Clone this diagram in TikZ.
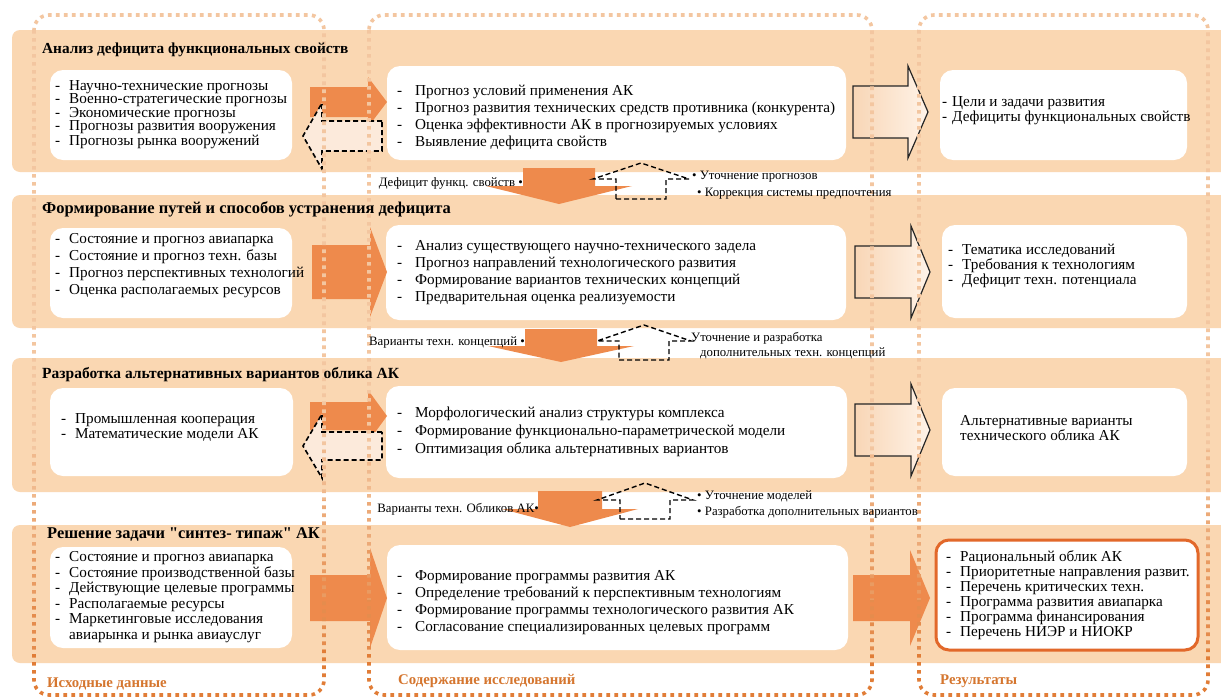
\documentclass[tikz,border=0pt]{standalone}
\usepackage{fontspec}
\setmainfont{Liberation Serif}[Ligatures=TeXOff]
\usetikzlibrary{calc}
\definecolor{band}{HTML}{FAD7B2}
\definecolor{orng}{HTML}{EE8A4C}
\definecolor{dotTop}{HTML}{F3C6A0}
\definecolor{dotBot}{HTML}{E07830}
\definecolor{lbl}{HTML}{D5762F}
\definecolor{dashfill}{HTML}{FCEADB}
\definecolor{resbd}{HTML}{E2682A}
\definecolor{outL}{HTML}{F8D6B6}
\definecolor{outR}{HTML}{FFF3E8}
\newcommand{\dashit}{\makebox[14pt][l]{-}}
\newcommand{\dashm}{\makebox[18pt][l]{-}}
% style, x-start, x-headbase, x-tip, centre-y, body half, head half
\newcommand{\RArrow}[7]{\path[#1] (#2,{#5-#6}) -- (#3,{#5-#6}) -- (#3,{#5-#7}) -- (#4,#5) -- (#3,{#5+#7}) -- (#3,{#5+#6}) -- (#2,{#5+#6}) -- cycle;}
% style, centre-x, y-start, y-headbase, y-tip, body half, head half
\newcommand{\DArrow}[7]{\path[#1] ({#2-#6},#3) -- ({#2+#6},#3) -- ({#2+#6},#4) -- ({#2+#7},#4) -- (#2,#5) -- ({#2-#7},#4) -- ({#2-#6},#4) -- cycle;}
\tikzset{
 bandbox/.style={fill=band, rounded corners=8pt},
 wbox/.style={draw=none, fill=white, rounded corners=13pt, inner sep=0pt},
 resbox/.style={draw=resbd, line width=3pt, fill=white, rounded corners=13pt, inner sep=0pt},
 solidarrow/.style={fill=orng},
 dasharrow/.style={draw=black, dash pattern=on 5pt off 3pt, line width=1.6pt, fill=dashfill},
 outarrow/.style={draw=black!85, line width=1.2pt, left color=outL, right color=outR},
 houseline/.style={draw=black, dash pattern=on 5pt off 3pt, line width=1.4pt},
 title/.style={font=\fontsize{15.5}{18}\selectfont\bfseries, anchor=west, inner sep=0pt},
 txt/.style={font=\fontsize{15.2}{17}\selectfont, anchor=west, align=left, inner sep=0pt},
 small/.style={font=\fontsize{12.8}{15}\selectfont, inner sep=0pt},
 collabel/.style={font=\fontsize{14.8}{17}\selectfont\bfseries, text=lbl, anchor=west, inner sep=0pt},
 dotcol/.style={line width=3.6pt, dash pattern=on 3.6pt off 4.4pt, rounded corners=15pt},
}
\begin{document}
\begin{tikzpicture}[x=1pt,y=-1pt]
\useasboundingbox (0,0) rectangle (1221,699);
\fill[white] (0,0) rectangle (1221,699);
% bands
\fill[bandbox] (12,30) rectangle (1240,172);
\fill[bandbox] (12,195) rectangle (1240,328);
\fill[bandbox] (12,358) rectangle (1240,492);
\fill[bandbox] (12,525) rectangle (1240,663);
% white boxes
\node[wbox, minimum width=242pt, minimum height=90pt] (l1) at (171,115) {};
\node[wbox, minimum width=459pt, minimum height=94pt] (m1) at (616.5,113) {};
\node[wbox, minimum width=247pt, minimum height=90pt] (r1) at (1063.5,115) {};
\node[wbox, minimum width=242pt, minimum height=90pt] (l2) at (171,273) {};
\node[wbox, minimum width=460pt, minimum height=95pt] (m2) at (616,272.5) {};
\node[wbox, minimum width=245pt, minimum height=93pt] (r2) at (1064.5,271.5) {};
\node[wbox, minimum width=243pt, minimum height=88pt] (l3) at (171.5,432) {};
\node[wbox, minimum width=461pt, minimum height=92pt] (m3) at (616.5,432) {};
\node[wbox, minimum width=245pt, minimum height=88pt] (r3) at (1064.5,432) {};
\node[wbox, minimum width=242pt, minimum height=101pt] (l4) at (171,597.5) {};
\node[wbox, minimum width=461pt, minimum height=105pt] (m4) at (617.5,597.5) {};
\node[resbox, minimum width=262pt, minimum height=110pt] (r4) at (1067,595) {};
% block arrows
\RArrow{solidarrow}{310}{368}{387}{102}{15}{25}
\RArrow{dasharrow}{382}{322}{303}{136}{15}{33}
\RArrow{outarrow}{853}{908}{928}{112}{26}{46}
\RArrow{solidarrow}{312}{370}{387}{272}{27}{45}
\RArrow{outarrow}{855}{911}{930}{272}{26}{46}
\RArrow{solidarrow}{310}{368}{387}{416}{14}{26}
\RArrow{dasharrow}{382}{322}{303}{446}{14}{32}
\RArrow{outarrow}{855}{911}{930}{430}{26}{46}
\RArrow{solidarrow}{310}{370}{387}{598}{23}{50}
\RArrow{solidarrow}{853}{910}{930}{598}{23}{48}
% down arrows and dashed feedback shapes
\DArrow{solidarrow}{559}{168}{186}{204}{36}{73}
\DArrow{solidarrow}{561}{329}{346}{362}{36}{73}
\DArrow{solidarrow}{570}{491}{509}{527}{32}{68}
\DArrow{houseline}{641}{199}{179}{163}{25}{48}
\DArrow{houseline}{644}{360}{341}{325}{25}{47}
\DArrow{houseline}{645}{519}{500}{483}{25}{48}
% dotted column outlines (light at top, dark at bottom)
\foreach \i in {0,...,13} {
  \pgfmathtruncatemacro\pp{max(0,min(100,((\i*50+25)-430)/2.6))}
  \colorlet{dc}{dotBot!\pp!dotTop}
  \begin{scope}
    \clip (0,{\i*50}) rectangle (1221,{\i*50+50});
    \draw[dotcol, draw=dc] (34,15) rectangle (324,695);
    \draw[dotcol, draw=dc] (369,15) rectangle (872,695);
    \draw[dotcol, draw=dc] (919,15) rectangle (1208,695);
  \end{scope}
}
% titles
\node[title, font=\fontsize{15.3}{18}\selectfont\bfseries] (t1) at (42,50) {Анализ дефицита функциональных свойств};
\node[title, font=\fontsize{16.5}{18}\selectfont\bfseries] (t2) at (42,209) {Формирование путей и способов устранения дефицита};
\node[title, font=\fontsize{15.5}{18}\selectfont\bfseries] (t3) at (42,375) {Разработка альтернативных вариантов облика АК};
\node[title, font=\fontsize{16.4}{18}\selectfont\bfseries] (t4) at (47,535) {Решение задачи "синтез- типаж" АК};
% texts row 1
\node[txt, font=\fontsize{15.2}{13.25}\selectfont] (l1t) at (55,114.5) {\dashit Научно-технические прогнозы\\ \dashit Военно-стратегические прогнозы\\ \dashit Экономические прогнозы\\ \dashit Прогнозы развития вооружения\\ \dashit Прогнозы рынка вооружений};
\node[txt] (m1t) at (397,117) {\dashm Прогноз условий применения АК\\ \dashm Прогноз развития технических средств противника (конкурента)\\ \dashm Оценка эффективности АК в прогнозируемых условиях\\ \dashm Выявление дефицита свойств};
\node[txt, font=\fontsize{15.2}{15}\selectfont] (r1t) at (942,111) {\makebox[10pt][l]{-}Цели и задачи развития\\ \makebox[10pt][l]{-}Дефициты функциональных свойств};
% texts row 2
\node[txt] (l2t) at (55,266) {\dashit Состояние и прогноз авиапарка\\ \dashit Состояние и прогноз техн. базы\\ \dashit Прогноз перспективных технологий\\ \dashit Оценка располагаемых ресурсов};
\node[txt] (m2t) at (397,273) {\dashm Анализ существующего научно-технического задела\\ \dashm Прогноз направлений технологического развития\\ \dashm Формирование вариантов технических концепций\\ \dashm Предварительная оценка реализуемости};
\node[txt, font=\fontsize{15.2}{15}\selectfont] (r2t) at (948,266) {\dashit Тематика исследований\\ \dashit Требования к технологиям\\ \dashit Дефицит техн. потенциала};
% texts row 3
\node[txt, font=\fontsize{15.2}{15}\selectfont] (l3t) at (61,427) {\dashit Промышленная кооперация\\ \dashit Математические модели АК};
\node[txt, font=\fontsize{15.2}{18}\selectfont] (m3t) at (397,432) {\dashm Морфологический анализ структуры комплекса\\ \dashm Формирование функционально-параметрической модели\\ \dashm Оптимизация облика альтернативных вариантов};
\node[txt, font=\fontsize{15.2}{15}\selectfont] (r3t) at (960,428) {Альтернативные варианты\\ технического облика АК};
% texts row 4
\node[txt, font=\fontsize{15.2}{15.5}\selectfont] (l4t) at (55,597) {\dashit Состояние и прогноз авиапарка\\ \dashit Состояние производственной базы\\ \dashit Действующие целевые программы\\ \dashit Располагаемые ресурсы\\ \dashit Маркетинговые исследования\\ \hspace*{14pt}авиарынка и рынка авиауслуг};
\node[txt] (m4t) at (397,603) {\dashm Формирование программы развития АК\\ \dashm Определение требований к перспективным технологиям\\ \dashm Формирование программы технологического развития АК\\ \dashm Согласование специализированных целевых программ};
\node[txt, font=\fontsize{15.2}{15}\selectfont] (r4t) at (946,595) {\dashit Рациональный облик АК\\ \dashit Приоритетные направления развит.\\ \dashit Перечень критических техн.\\ \dashit Программа развития авиапарка\\ \dashit Программа финансирования\\ \dashit Перечень НИЭР и НИОКР};
% small labels between rows
\node[small, anchor=east] (a1) at (523,183) {Дефицит функц. свойств •};
\node[small, anchor=west] (b1) at (692,177) {• Уточнение прогнозов};
\node[small, anchor=west] (c1) at (697,194) {• Коррекция системы предпочтения};
\node[small, anchor=east] (a2) at (525,342) {Варианты техн. концепций •};
\node[small, anchor=west] (b2) at (691,338) {Уточнение и разработка};
\node[small, anchor=west] (c2) at (700,353) {дополнительных техн. концепций};
\node[small, anchor=east] (a3) at (539,509) {Варианты техн. Обликов АК•};
\node[small, anchor=west] (b3) at (697,496) {• Уточнение моделей};
\node[small, anchor=west] (c3) at (697,512) {• Разработка дополнительных вариантов};
% column labels
\node[collabel] (k1) at (47,684) {Исходные данные};
\node[collabel] (k2) at (398,681) {Содержание исследований};
\node[collabel] (k3) at (940,681) {Результаты};
\end{tikzpicture}
\end{document}
